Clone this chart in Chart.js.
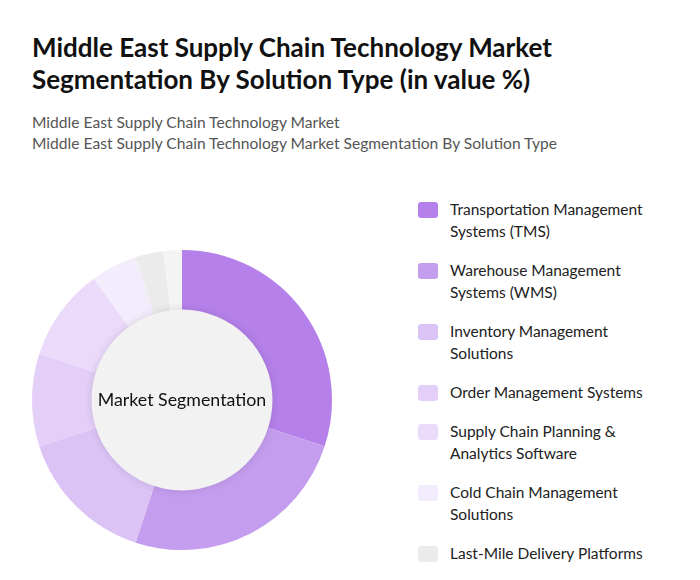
<!DOCTYPE html>
<html><head><meta charset="utf-8">
<script src="https://cdn.jsdelivr.net/npm/chart.js@4"></script>
<style>
body{margin:0;background:#fff;font-family:Lato,sans-serif;width:700px;height:580px;overflow:hidden;position:relative}
h1{position:absolute;left:32px;top:31px;margin:0;font-size:26px;line-height:32px;font-weight:700;color:#111;width:620px}
.sub{position:absolute;left:32px;top:112px;font-size:15.6px;line-height:21px;color:#555}
#wrap{position:absolute;left:22px;top:240px;width:320px;height:320px}
#legend{position:absolute;left:418px;top:198px;width:280px;height:382px;overflow:hidden}
.it{display:flex;align-items:flex-start;margin-bottom:17px}
.sw{width:20px;height:16px;border-radius:3px;margin-top:4px;margin-right:12px;flex:none}
.tx{font-size:15.5px;line-height:22px;color:#222}
</style></head><body>
<h1>Middle East Supply Chain Technology Market Segmentation By Solution Type (in value %)</h1>
<div class="sub">Middle East Supply Chain Technology Market<br>Middle East Supply Chain Technology Market Segmentation By Solution Type</div>
<div id="wrap"><canvas id="c" width="320" height="320"></canvas></div>
<div id="legend"></div>
<script>
const labels = ['Transportation Management Systems (TMS)','Warehouse Management Systems (WMS)','Inventory Management Solutions','Order Management Systems','Supply Chain Planning & Analytics Software','Cold Chain Management Solutions','Last-Mile Delivery Platforms','Others'];
const shares = [30, 25, 15, 10, 10, 5, 3, 2];
const colors = ['#b580ea','#c59def','#dbc3f6','#e3cff8','#ebdafa','#f3ecfc','#ebebeb','#f4f4f4'];

const centerDisc = {
  id:'centerDisc',
  afterDatasetsDraw(chart){
    const m = chart.getDatasetMeta(0).data[0];
    const ctx = chart.ctx;
    ctx.save();
    ctx.shadowColor='rgba(0,0,0,0.12)';ctx.shadowBlur=8;
    ctx.beginPath();ctx.arc(m.x,m.y,m.innerRadius+2,0,Math.PI*2);
    ctx.fillStyle='#f2f2f2';ctx.fill();
    ctx.shadowColor='transparent';
    ctx.fillStyle='#111';ctx.font='17.8px Lato';ctx.textAlign='center';ctx.textBaseline='middle';
    ctx.fillText('Market Segmentation',m.x,m.y);
    ctx.restore();
  }
};
new Chart(document.getElementById('c'),{
  type:'doughnut',
  data:{labels,datasets:[{data:shares,backgroundColor:colors,borderWidth:0}]},
  options:{responsive:false,animation:false,cutout:'59%',layout:{padding:10},
    plugins:{legend:{display:false},tooltip:{enabled:false}}},
  plugins:[centerDisc]
});
const lg=document.getElementById('legend');
const wrapText=['Transportation Management<br>Systems (TMS)','Warehouse Management<br>Systems (WMS)','Inventory Management<br>Solutions','Order Management Systems','Supply Chain Planning &amp;<br>Analytics Software','Cold Chain Management<br>Solutions','Last-Mile Delivery Platforms','Others'];
labels.forEach((l,i)=>{
  lg.insertAdjacentHTML('beforeend',`<div class="it"><div class="sw" style="background:${colors[i]}"></div><div class="tx">${wrapText[i]}</div></div>`);
});
</script>
</body></html>
